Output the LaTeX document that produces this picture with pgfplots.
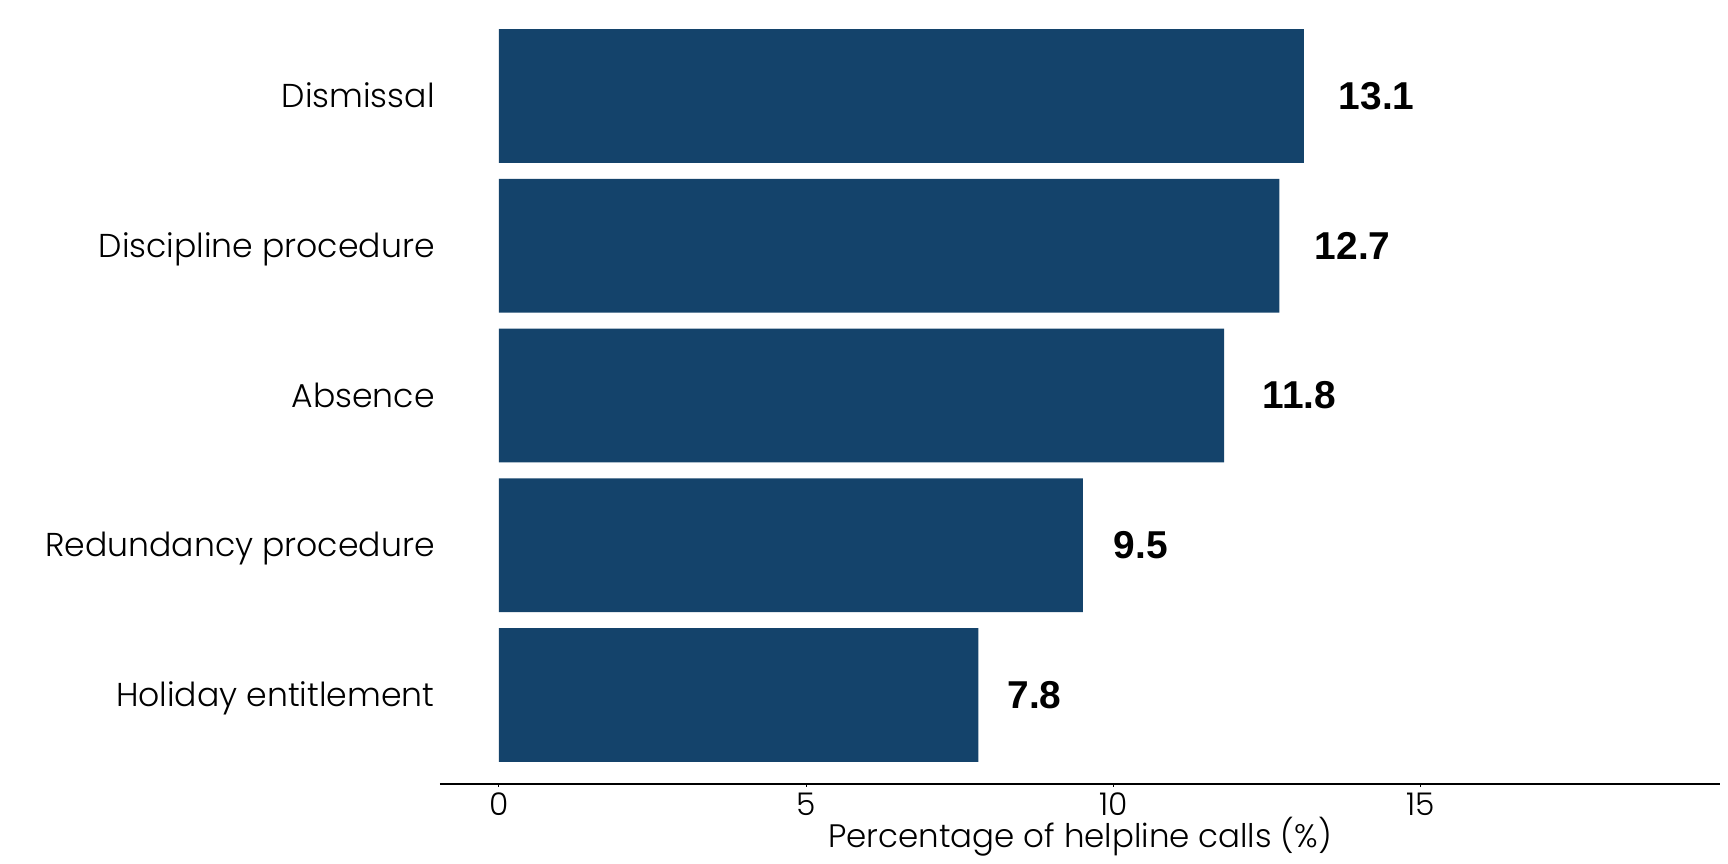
\documentclass[border=0pt]{standalone}
\usepackage{fontspec}
\usepackage{pgfplots}
\pgfplotsset{compat=1.18}
\newfontfamily\gothic{Poppins Light}
\newfontfamily\valfont{Liberation Sans}
\definecolor{barblue}{HTML}{14436B}

\begin{document}
\begin{tikzpicture}
    % fixed page: 864 x 432 bp
    \useasboundingbox (-220bp,-40bp) rectangle (644bp,392bp);
    \begin{axis}[
        at={(0,0)}, anchor=south west,
        scale only axis,
        width=640bp, height=392bp,
        xmin=-0.96, xmax=19.87,
        ymin=-0.594, ymax=4.641,
        axis lines*=left,
        y axis line style={draw=none},
        x axis line style={black, line width=0.6bp},
        xtick={0,5,10,15},
        ytick={0,1,2,3,4},
        yticklabels={Holiday entitlement, Redundancy procedure, Absence, Discipline procedure, Dismissal},
        tick align=outside,
        major tick length=1.5bp,
        ytick style={draw=none},
        xtick style={black, line width=0.5bp},
        /pgf/number format/assume math mode=true,
        xticklabel style={font=\gothic\fontsize{15.7}{16}\selectfont, inner sep=0pt,
            text height=11bp, text depth=0pt, anchor=north, yshift=-3bp},
        yticklabel style={font=\gothic\fontsize{16.6}{17}\selectfont, inner sep=0pt,
            text height=11.6bp, text depth=0pt, anchor=east, xshift=-1bp},
        xlabel={Percentage of helpline calls (\%)},
        xlabel style={font=\gothic\fontsize{16.3}{17}\selectfont, inner sep=0pt,
            at={(rel axis cs:0.5,0)}, anchor=north, yshift=-16.5bp},
        clip=false,
    ]
        % bars
        \addplot[xbar, bar width=0.893, bar shift=0pt, fill=barblue, draw=none] coordinates {
            (7.8,0) (9.5,1) (11.8,2) (12.7,3) (13.1,4)
        };
        % value labels
        \addplot[draw=none, nodes near coords, point meta=explicit symbolic,
            nodes near coords style={anchor=west, inner sep=0pt,
                font=\valfont\bfseries\fontsize{19.5}{20}\selectfont}] coordinates {
            (8.27,0) [7.8]
            (10.0,1) [9.5]
            (12.42,2) [11.8]
            (13.27,3) [12.7]
            (13.66,4) [13.1]
        };
    \end{axis}
\end{tikzpicture}
\end{document}
